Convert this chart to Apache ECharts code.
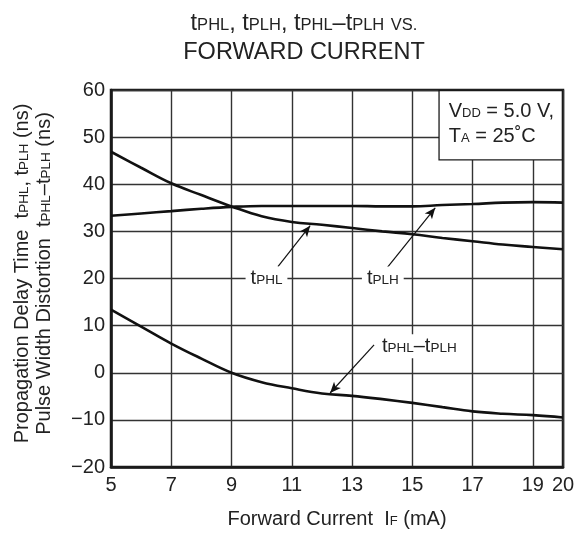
<!DOCTYPE html>
<html><head><meta charset="utf-8">
<script src="https://cdn.jsdelivr.net/npm/echarts@6/dist/echarts.min.js"></script>
<style>html,body{margin:0;padding:0;background:#fff}#c{width:580px;height:541px}</style>
</head><body><div id="c"></div>
<script>
const currents = [5,6,7,8,9,10,11,12,13,14,15,16,17,18,19,20];
const tPHL  = [46.9,43.5,40.2,37.7,35.3,33.2,32.0,31.4,30.7,30.0,29.4,28.6,27.9,27.2,26.7,26.2];
const tPLH  = [33.3,33.8,34.3,34.8,35.2,35.4,35.4,35.4,35.4,35.3,35.3,35.6,35.8,36.1,36.2,36.1];
const tDiff = [13.4,9.8,6.2,3.0,0.0,-2.0,-3.3,-4.4,-4.9,-5.6,-6.4,-7.3,-8.2,-8.7,-9.0,-9.5];
const yTicks = {min:-20, max:60, interval:10};
const xTicks = {min:5, max:20, interval:2};
// annotation anchors in data units
const arrowPHL = [[10.54,22.5],[11.61,31.2]];
const arrowPLH = [[14.1,21.8],[15.76,35.0]];
const arrowDiff = [[13.73,5.9],[12.27,-4.3]];
const labelPHL = [10.16,20];
const labelPLH = [14.02,20];
const labelDiff = [15.23,5.6];

const FONT = "'Liberation Sans', Arial, sans-serif";
const zip = a => currents.map((x,i)=>[x,a[i]]);
function labelPoint(coord, fmt){
  return {coord:coord, symbol:'rect', symbolSize:1, itemStyle:{color:'rgba(0,0,0,0)'},
    label:{show:true, position:'inside', formatter:fmt, backgroundColor:'#fff', padding:[2,5,2,5], rich:{
      t:{fontSize:20,fontFamily:FONT,color:'#222'},
      s:{fontSize:13.5,fontFamily:FONT,color:'#222',padding:[4,0,0,0]}
    }}};
}
function arrow(a){ return [{coord:a[0], symbol:'none'},{coord:a[1], symbol:'arrow', symbolSize:[7,11]}]; }
const lineBase = {type:'line', smooth:0.4, showSymbol:false, lineStyle:{color:'#111', width:2.6}, itemStyle:{color:'#111'}, animation:false, z:3};

const chart = echarts.init(document.getElementById('c'), null, {renderer:'canvas'});
chart.setOption({
  animation:false,
  backgroundColor:'#fff',
  title:{
    text:'{t|t}{s|PHL}{t|, t}{s|PLH}{t|, t}{s|PHL}{t|–t}{s|PLH}{t| }{s|VS.}\n{t|FORWARD CURRENT}',
    left:299, top:4, textAlign:'center',
    textStyle:{fontWeight:'normal', rich:{
      t:{fontSize:23.5,fontFamily:FONT,color:'#222',lineHeight:29,fontWeight:'normal'},
      s:{fontSize:16.5,fontFamily:FONT,color:'#222',lineHeight:29,padding:[4,0,0,0],fontWeight:'normal'}
    }}
  },
  grid:{left:111, right:17, top:90, bottom:74, show:true, borderColor:'#1a1a1a', borderWidth:2.5, backgroundColor:'#fff'},
  xAxis:{type:'value', min:xTicks.min, max:xTicks.max, interval:xTicks.interval,
    name:'{n|Forward Current  I}{s|F}{n| (mA)}', nameLocation:'middle', nameGap:42,
    nameTextStyle:{rich:{n:{fontSize:20,fontFamily:FONT,color:'#222'},s:{fontSize:13,fontFamily:FONT,color:'#222',padding:[4,0,0,0]}}},
    axisLine:{show:true,onZero:false,lineStyle:{color:'#1a1a1a',width:2.5}}, axisTick:{show:false},
    axisLabel:{fontSize:20,fontFamily:FONT,color:'#222',margin:8,showMaxLabel:true},
    splitLine:{show:true,lineStyle:{color:'#333',width:1.4}}},
  yAxis:{type:'value', min:yTicks.min, max:yTicks.max, interval:yTicks.interval,
    name:'{n|Propagation Delay Time  t}{s|PHL}{n|, t}{s|PLH}{n| (ns)}\n{n|Pulse Width Distortion  t}{s|PHL}{n|–t}{s|PLH}{n| (ns)}',
    nameLocation:'middle', nameRotate:90, nameGap:56,
    nameTextStyle:{lineHeight:22, padding:[0,0,0,10], rich:{
      n:{fontSize:20,fontFamily:FONT,color:'#222',lineHeight:22},
      s:{fontSize:13.5,fontFamily:FONT,color:'#222',lineHeight:22,padding:[4,0,0,0]}
    }},
    axisLine:{show:true,onZero:false,lineStyle:{color:'#1a1a1a',width:2.5}}, axisTick:{show:false},
    axisLabel:{fontSize:20,fontFamily:FONT,color:'#222',margin:6,
      formatter:v => v<0 ? '\u2212'+Math.abs(v) : String(v)},
    splitLine:{show:true,lineStyle:{color:'#333',width:1.4}}},
  graphic:[{
    type:'text', right:17, top:90, z:10,
    style:{
      text:'{a|V}{b|DD}{a| = 5.0 V,}\n{a|T}{b|A}{a| = 25˚C}',
      fill:'#222', backgroundColor:'#fff', borderColor:'#1a1a1a', borderWidth:1.3,
      padding:[8,2,10,9], width:111,
      rich:{a:{fontSize:20,fontFamily:FONT,fill:'#222',lineHeight:25},b:{fontSize:13,fontFamily:FONT,fill:'#222',lineHeight:25,padding:[4,0,0,0]}}
    }
  }],
  series:[
    Object.assign({}, lineBase, {name:'tPHL', data:zip(tPHL),
      markLine:{silent:true, animation:false, label:{show:false}, lineStyle:{color:'#111',width:1.2,type:'solid'}, symbol:['none','arrow'],
        data:[arrow(arrowPHL), arrow(arrowPLH), arrow(arrowDiff)]},
      markPoint:{silent:true, animation:false, data:[
        labelPoint(labelPHL,'{t|t}{s|PHL}'),
        labelPoint(labelPLH,'{t|t}{s|PLH}'),
        labelPoint(labelDiff,'{t|t}{s|PHL}{t|–t}{s|PLH}')
      ]}}),
    Object.assign({}, lineBase, {name:'tPLH', data:zip(tPLH)}),
    Object.assign({}, lineBase, {name:'tPHL-tPLH', data:zip(tDiff)})
  ]
});
</script></body></html>
